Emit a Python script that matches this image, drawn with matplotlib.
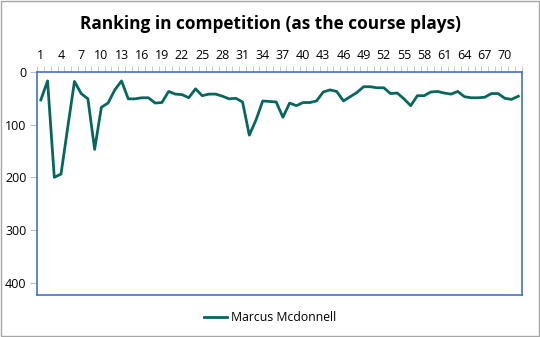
import numpy as np
import matplotlib.pyplot as plt
from matplotlib.ticker import MultipleLocator, FixedLocator

plt.rcParams['font.family'] = ['Open Sans', 'DejaVu Sans']

# Ranking after each hole played
holes = list(range(1, 73))
ranking = [53, 17, 200, 194, 105, 18, 41, 51, 147, 67,
           59, 34, 17, 51, 51, 49, 49, 59, 58, 37,
           42, 43, 49, 32, 45, 42, 42, 46, 51, 50,
           57, 120, 91, 55, 56, 57, 86, 59, 64, 58,
           58, 55, 38, 34, 37, 55, 47, 39, 28, 28,
           30, 30, 41, 40, 51, 64, 45, 45, 38, 37,
           40, 42, 37, 47, 49, 49, 48, 41, 41, 50,
           52, 46]
tick_labels = holes[::3]

line_color = '#05675F'
spine_color = '#4472C4'
tick_color = '#BFBFBF'

fig = plt.figure(figsize=(5.4, 3.37), dpi=100)
ax = fig.add_axes([0.0694, 0.1255, 0.8966, 0.6609])

ax.plot(holes, ranking, color=line_color, lw=2, label='Marcus Mcdonnell')

ax.set_xlim(0.5, len(holes) + 0.5)
ax.set_ylim(423, 0)

ax.xaxis.tick_top()
ax.xaxis.set_major_locator(FixedLocator(tick_labels))
ax.xaxis.set_minor_locator(MultipleLocator(1, offset=0.5))
ax.tick_params(axis='x', which='major', length=0, labelsize=9, pad=7)
ax.tick_params(axis='x', which='minor', length=4, color=tick_color, direction='out')

ax.yaxis.set_major_locator(MultipleLocator(100))
ax.tick_params(axis='y', length=5, color=tick_color, labelsize=9, pad=3)

for s in ax.spines.values():
    s.set_color(spine_color)
    s.set_linewidth(1.2)

fig.text(0.5, 0.928, 'Ranking in competition (as the course plays)',
         ha='center', va='center', fontsize=12.4, fontweight='bold')

fig.legend(loc='center', bbox_to_anchor=(0.5, 0.057), frameon=False,
           fontsize=8.8, handlelength=1.9, handletextpad=0.25)

# thin outer frame
fig.patches.append(plt.Rectangle((0.001, 0.002), 0.997, 0.995, transform=fig.transFigure,
                                 fill=False, edgecolor='#A6A6A6', lw=1))

fig.savefig('out.png', dpi=100)
